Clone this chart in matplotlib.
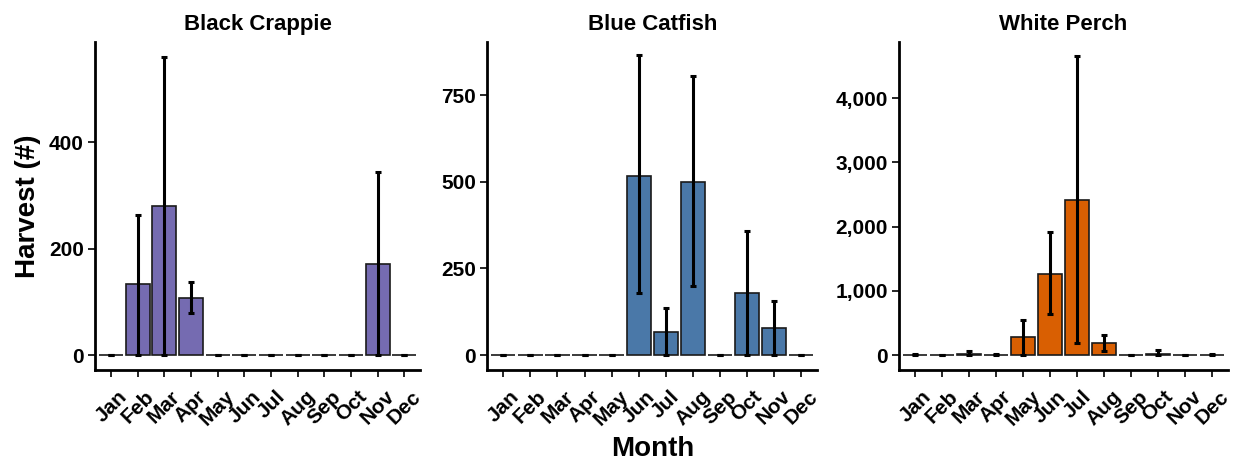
import numpy as np
import matplotlib
matplotlib.use('Agg')
import matplotlib.pyplot as plt
from matplotlib.ticker import FuncFormatter

plt.rcParams['font.family'] = ['Liberation Sans', 'DejaVu Sans']
plt.rcParams['font.weight'] = 'bold'

months = ['Jan', 'Feb', 'Mar', 'Apr', 'May', 'Jun',
          'Jul', 'Aug', 'Sep', 'Oct', 'Nov', 'Dec']

# mean monthly harvest with lower / upper error bounds
crappie_mean = [0, 133, 280, 107, 0, 0, 0, 0, 0, 0, 172, 0]
crappie_lo = [0, 0, 0, 80, 0, 0, 0, 0, 0, 0, 0, 0]
crappie_hi = [0, 263, 560, 137, 0, 0, 0, 0, 0, 0, 345, 0]

catfish_mean = [0, 0, 0, 0, 0, 517, 68, 500, 0, 178, 78, 0]
catfish_lo = [0, 0, 0, 0, 0, 178, 0, 200, 0, 0, 0, 0]
catfish_hi = [0, 0, 0, 0, 0, 865, 135, 805, 0, 357, 157, 0]

perch_mean = [5, 3, 25, 3, 285, 1267, 2419, 197, 3, 20, 3, 5]
perch_lo = [0, 0, 0, 0, 0, 646, 186, 60, 0, 0, 0, 0]
perch_hi = [15, 10, 60, 12, 547, 1918, 4662, 310, 10, 80, 8, 15]

panels = [
    ('Black Crappie', crappie_mean, crappie_lo, crappie_hi, '#756bb1',
     [0, 200, 400], (-28, 588), [0.077, 0.204, 0.264, 0.705]),
    ('Blue Catfish', catfish_mean, catfish_lo, catfish_hi, '#4a78a8',
     [0, 250, 500, 750], (-43, 902), [0.395, 0.204, 0.268, 0.705]),
    ('White Perch', perch_mean, perch_lo, perch_hi, '#d95f02',
     [0, 1000, 2000, 3000, 4000], (-233, 4870), [0.729, 0.204, 0.267, 0.705]),
]

fig = plt.figure(figsize=(12.33, 4.65), dpi=100)
x = np.arange(1, 13)

for title, mean, lo, hi, color, yticks, ylim, rect in panels:
    ax = fig.add_axes(rect)
    mean = np.array(mean, dtype=float)
    lo = np.array(lo, dtype=float)
    hi = np.array(hi, dtype=float)
    ax.bar(x, mean, width=0.9, color=color, edgecolor='#1a1a1a', linewidth=1.2,
           zorder=2)
    ax.errorbar(x, mean, yerr=[mean - lo, hi - mean], fmt='none',
                ecolor='black', elinewidth=2.2, capsize=2.5, capthick=2.2,
                zorder=3)
    ax.set_xlim(0.4, 12.6)
    ax.set_ylim(*ylim)
    ax.set_yticks(yticks)
    ax.yaxis.set_major_formatter(FuncFormatter(lambda v, p: f'{int(v):,}'))
    ax.set_xticks(x)
    ax.set_xticklabels(months, rotation=45, ha='center', va='top')
    ax.set_title(title, fontsize=16, fontweight='bold', pad=9)
    for side in ['top', 'right']:
        ax.spines[side].set_visible(False)
    for side in ['left', 'bottom']:
        ax.spines[side].set_linewidth(2.0)
    ax.tick_params(axis='both', width=1.2, length=5, labelsize=15,
                   colors='black')
    ax.tick_params(axis='x', pad=7)
    ax.tick_params(axis='y', pad=3)
    for lab in ax.get_xticklabels() + ax.get_yticklabels():
        lab.set_fontweight('bold')
    if title == 'Black Crappie':
        ax.set_ylabel('Harvest (#)', fontsize=20, fontweight='bold',
                      labelpad=6)
    if title == 'Blue Catfish':
        ax.set_xlabel('Month', fontsize=20, fontweight='bold', labelpad=5)

fig.savefig('out.png', dpi=100)
